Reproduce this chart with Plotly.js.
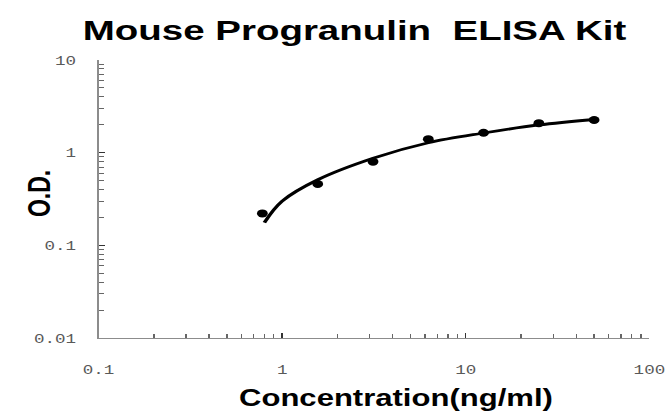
<!DOCTYPE html>
<html>
<head>
<meta charset="utf-8">
<script src="https://cdn.plot.ly/plotly-3.0.1.min.js"></script>
<style>
  html, body { margin: 0; padding: 0; background: #fff; overflow: hidden; }
  #wrap { width: 671px; height: 412px; overflow: hidden; }
  #chart { width: 497px; height: 412px; transform: scaleX(1.3501); transform-origin: 0 0; }
</style>
</head>
<body>
<div id="wrap"><div id="chart"></div></div>
<script>
// Standard points (concentration ng/ml, O.D.)
const concentration = [0.78, 1.5625, 3.125, 6.25, 12.5, 25, 50];
const od = [0.221, 0.459, 0.80, 1.40, 1.64, 2.08, 2.25];

// Fitted curve
const fitConcentration = [0.8, 1, 1.5625, 3.125, 6.25, 12.5, 25, 50];
const fitOD = [0.176, 0.30, 0.51, 0.87, 1.28, 1.63, 1.99, 2.28];

// Axis tick labels
const xTickVals = [0.1, 1, 10, 100];
const xTickText = ['0.1', '1', '10', '100'];
const yTickVals = [0.01, 0.1, 1, 10];
const yTickText = ['0.01', '0.1', '1', '10'];

const chartTitle = 'Mouse Progranulin  ELISA Kit';
const xTitle = 'Concentration(ng/ml)';
const yTitle = 'O.D.';

function minorTicks(decades) {
  const out = [];
  decades.forEach(function (d) {
    for (let k = 2; k <= 9; k++) out.push(+(k * d).toPrecision(6));
  });
  return out;
}

const tickFont = { family: 'Liberation Mono, Courier New, monospace', size: 13, color: '#595959' };

const traces = [
  {
    x: fitConcentration, y: fitOD, type: 'scatter', mode: 'lines',
    line: { color: '#000', width: 2.8, shape: 'spline', smoothing: 1 },
    hoverinfo: 'skip', showlegend: false
  },
  {
    x: concentration, y: od, type: 'scatter', mode: 'markers',
    marker: { color: '#000', size: 8 },
    showlegend: false
  }
];

function axis(vals, text, range, standoff, minorVals) {
  return {
    type: 'log',
    range: range,
    showgrid: false,
    zeroline: false,
    showline: true,
    linecolor: '#8c8c8c',
    linewidth: 1,
    ticks: 'inside',
    tickcolor: '#333',
    ticklen: 5,
    tickwidth: 1,
    tickmode: 'array',
    tickvals: vals,
    ticktext: text,
    tickfont: tickFont,
    ticklabelstandoff: standoff,
    minor: { ticks: 'inside', tickmode: 'array', tickvals: minorVals, ticklen: 4, tickcolor: '#666', tickwidth: 1, showgrid: false }
  };
}

const layout = {
  width: 497, height: 412,
  margin: { l: 73, r: 16, t: 60, b: 74 },
  paper_bgcolor: '#fff', plot_bgcolor: '#fff',
  title: {
    text: chartTitle,
    font: { family: 'Liberation Sans, Arial, sans-serif', size: 28.5, color: '#000', weight: 'bold' },
    xref: 'container', yref: 'container',
    x: 0.5284, xanchor: 'center', y: 0.928, yanchor: 'middle'
  },
  xaxis: axis(xTickVals, xTickText, [-1, 2], 19, minorTicks([0.1, 1, 10])),
  yaxis: axis(yTickVals, yTickText, [-2, 1], 13, minorTicks([0.01, 0.1, 1])),
  annotations: [
    {
      text: xTitle, xref: 'paper', yref: 'paper', x: 0.540, y: -0.215,
      xanchor: 'center', yanchor: 'middle', showarrow: false,
      font: { family: 'Liberation Sans, Arial, sans-serif', size: 23, color: '#000', weight: 'bold' }
    },
    {
      text: yTitle, xref: 'paper', yref: 'paper', x: -0.1064, y: 0.52,
      xanchor: 'center', yanchor: 'middle', showarrow: false, textangle: -90,
      font: { family: 'Liberation Sans, Arial, sans-serif', size: 23, color: '#000', weight: 'bold' }
    }
  ],
  showlegend: false
};

Plotly.newPlot('chart', traces, layout, { staticPlot: true, displayModeBar: false });
</script>
</body>
</html>
